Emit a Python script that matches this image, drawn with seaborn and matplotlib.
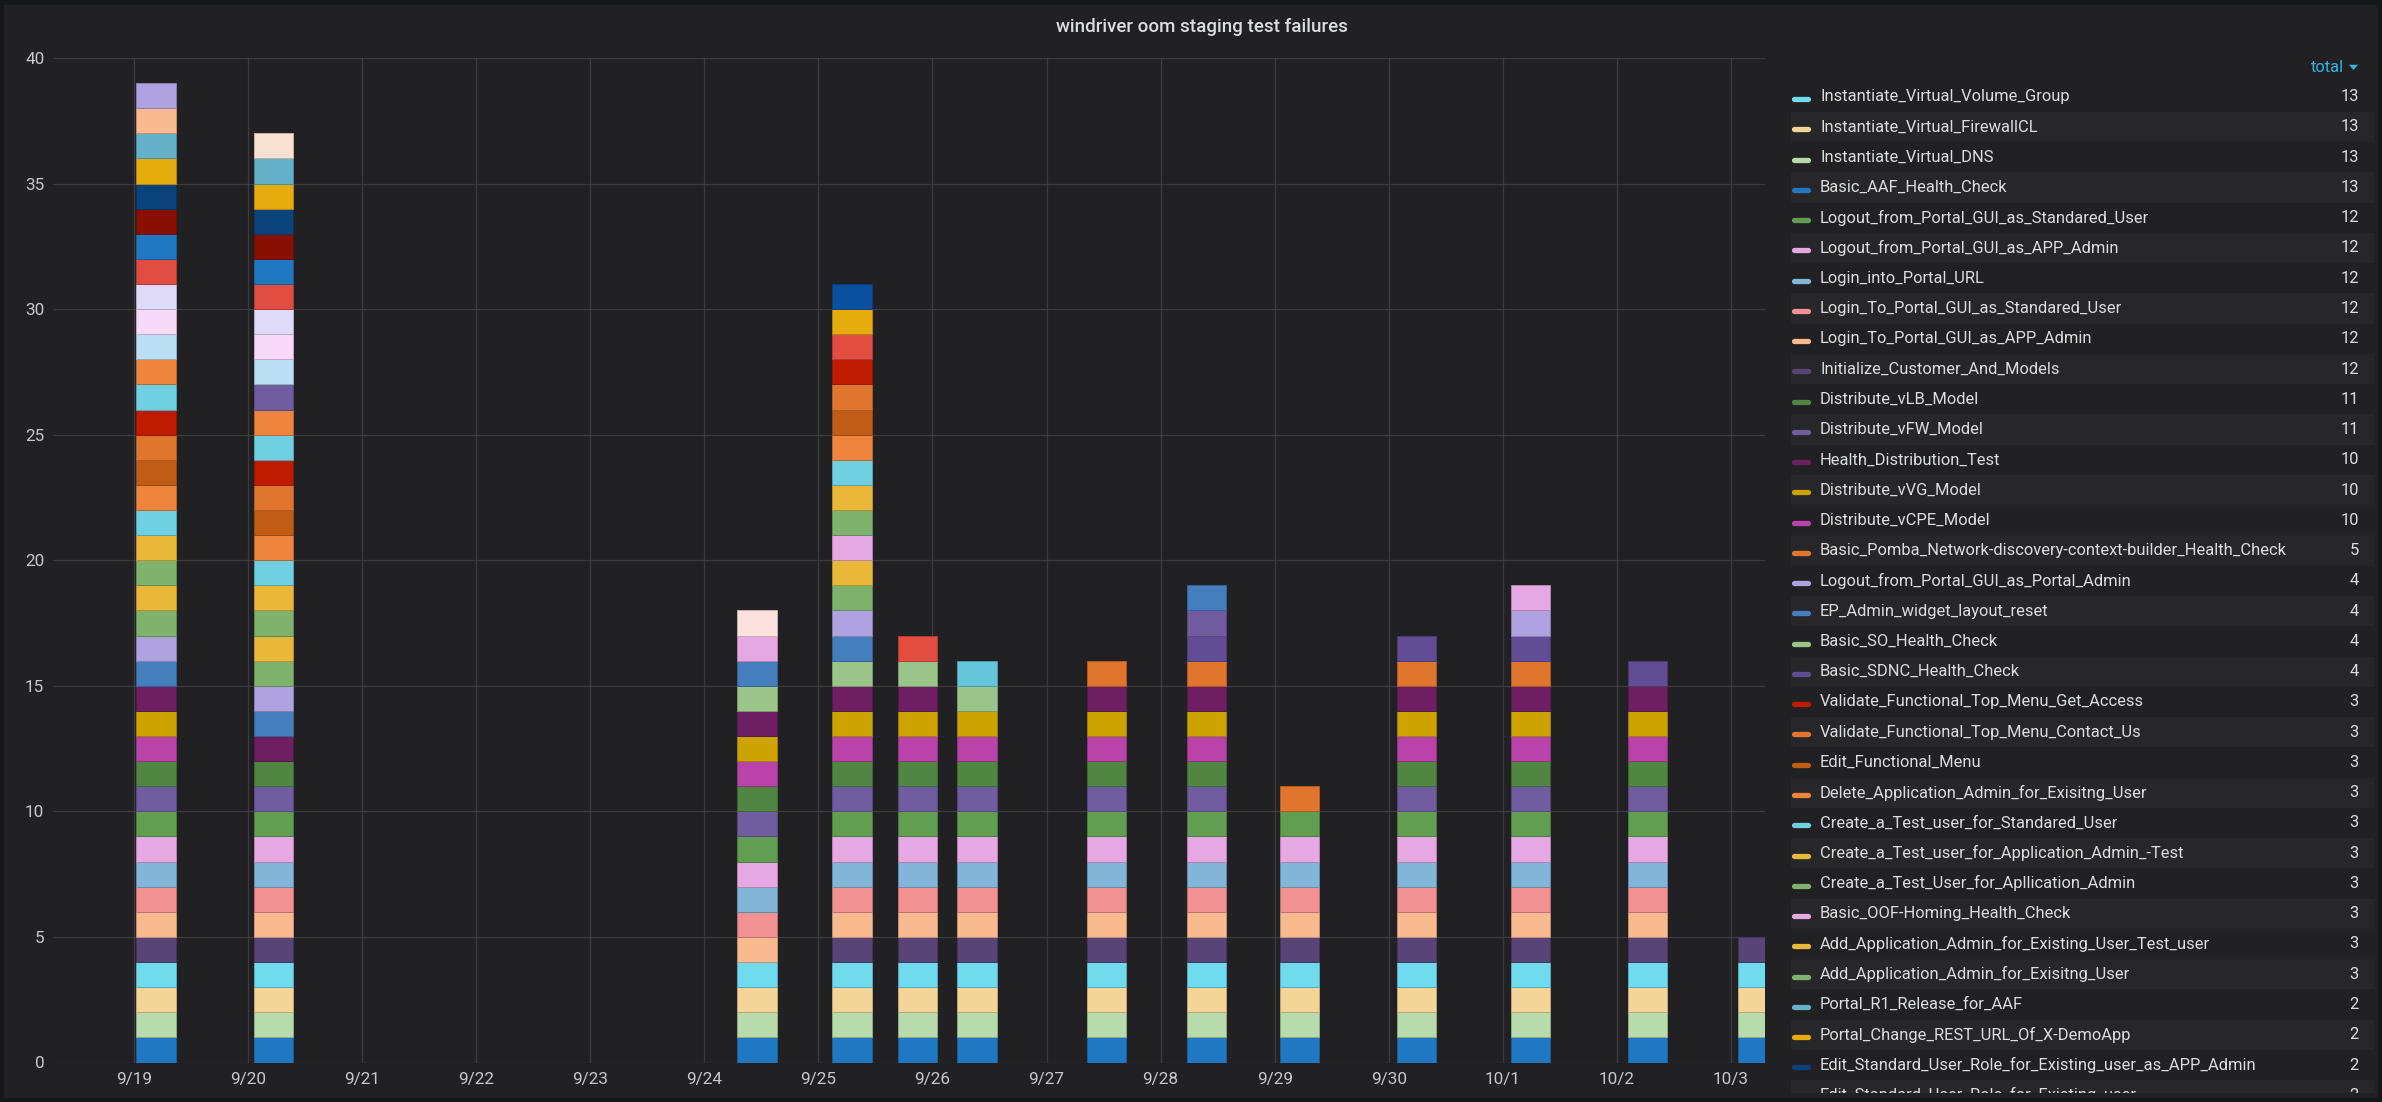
import numpy as np
import pandas as pd
import matplotlib
matplotlib.use("Agg")
import matplotlib.pyplot as plt
import matplotlib.dates as mdates
import seaborn as sns
from matplotlib.patches import Rectangle, Polygon

# ---------------- data ----------------
title = "windriver oom staging test failures"

# start time (left edge) of each test-run bar
bar_times = ["2018-09-19 00:29", "2018-09-20 01:11", "2018-09-24 06:56",
             "2018-09-25 02:58", "2018-09-25 16:45", "2018-09-26 05:11",
             "2018-09-27 08:27", "2018-09-28 05:33", "2018-09-29 01:05",
             "2018-09-30 01:45", "2018-10-01 01:44", "2018-10-02 02:21",
             "2018-10-03 01:26"]

x_tick_dates = ["2018-09-19", "2018-09-20", "2018-09-21", "2018-09-22",
                "2018-09-23", "2018-09-24", "2018-09-25", "2018-09-26",
                "2018-09-27", "2018-09-28", "2018-09-29", "2018-09-30",
                "2018-10-01", "2018-10-02", "2018-10-03"]
x_tick_labels = ["9/19", "9/20", "9/21", "9/22", "9/23", "9/24", "9/25", "9/26",
                 "9/27", "9/28", "9/29", "9/30", "10/1", "10/2", "10/3"]
y_ticks = [0, 5, 10, 15, 20, 25, 30, 35, 40]

# series in stacking order (bottom -> top)
series_names = [
    "Basic_AAF_Health_Check",
    "Instantiate_Virtual_DNS",
    "Instantiate_Virtual_FirewallCL",
    "Instantiate_Virtual_Volume_Group",
    "Initialize_Customer_And_Models",
    "Login_To_Portal_GUI_as_APP_Admin",
    "Login_To_Portal_GUI_as_Standared_User",
    "Login_into_Portal_URL",
    "Logout_from_Portal_GUI_as_APP_Admin",
    "Logout_from_Portal_GUI_as_Standared_User",
    "Distribute_vFW_Model",
    "Distribute_vLB_Model",
    "Distribute_vCPE_Model",
    "Distribute_vVG_Model",
    "Health_Distribution_Test",
    "Basic_Pomba_Network-discovery-context-builder_Health_Check",
    "Basic_SDNC_Health_Check",
    "Basic_SO_Health_Check",
    "EP_Admin_widget_layout_reset",
    "Logout_from_Portal_GUI_as_Portal_Admin",
    "Add_Application_Admin_for_Exisitng_User",
    "Add_Application_Admin_for_Existing_User_Test_user",
    "Basic_OOF-Homing_Health_Check",
    "Create_a_Test_User_for_Apllication_Admin",
    "Create_a_Test_user_for_Application_Admin_-Test",
    "Create_a_Test_user_for_Standared_User",
    "Delete_Application_Admin_for_Exisitng_User",
    "Edit_Functional_Menu",
    "Validate_Functional_Top_Menu_Contact_Us",
    "Validate_Functional_Top_Menu_Get_Access",
    "(scrolled out of legend) a",
    "(scrolled out of legend) b",
    "(scrolled out of legend) c",
    "(scrolled out of legend) d",
    "(scrolled out of legend) e",
    "(scrolled out of legend) f",
    "(scrolled out of legend) g",
    "(scrolled out of legend) h",
    "(scrolled out of legend) i",
    "Edit_Standard_User_Role_for_Existing_user",
    "Edit_Standard_User_Role_for_Existing_user_as_APP_Admin",
    "Portal_Change_REST_URL_Of_X-DemoApp",
    "Portal_R1_Release_for_AAF",
    "(scrolled out of legend) j",
    "(scrolled out of legend) k",
    "(scrolled out of legend) l",
    "(scrolled out of legend) m",
    "(scrolled out of legend) n",
    "(scrolled out of legend) o",
    "(scrolled out of legend) p",
    "(scrolled out of legend) q",
]

series_colors = [
    "#1F78C1", "#B7DBAB", "#F4D598", "#70DBED", "#584477", "#F9BA8F",
    "#F29191", "#82B5D8", "#E5A8E2", "#629E51", "#705DA0", "#508642",
    "#BA43A9", "#CCA300", "#6D1F62", "#E0752D", "#614D93", "#9AC48A",
    "#447EBC", "#AEA2E0", "#7EB26D", "#EAB839", "#E5A8E2", "#7EB26D",
    "#EAB839", "#6ED0E0", "#EF843C", "#C15C17", "#E0752D", "#BF1B00",
    "#6ED0E0", "#EF843C", "#705DA0", "#BADFF4", "#F9D9F9", "#DEDAF7",
    "#E24D42", "#1F78C1", "#E24D42", "#890F02", "#0A437C", "#E5AC0E",
    "#64B0C8", "#F9BA8F", "#AEA2E0", "#F9E2D2", "#FCE2DE", "#E5AC0E",
    "#0A50A1", "#65C5DB", "#447EBC",
]

# failures per bar (columns follow bar_times)
series_counts = [
    [1, 1, 1, 1, 1, 1, 1, 1, 1, 1, 1, 1, 1],
    [1, 1, 1, 1, 1, 1, 1, 1, 1, 1, 1, 1, 1],
    [1, 1, 1, 1, 1, 1, 1, 1, 1, 1, 1, 1, 1],
    [1, 1, 1, 1, 1, 1, 1, 1, 1, 1, 1, 1, 1],
    [1, 1, 0, 1, 1, 1, 1, 1, 1, 1, 1, 1, 1],
    [1, 1, 1, 1, 1, 1, 1, 1, 1, 1, 1, 1, 0],
    [1, 1, 1, 1, 1, 1, 1, 1, 1, 1, 1, 1, 0],
    [1, 1, 1, 1, 1, 1, 1, 1, 1, 1, 1, 1, 0],
    [1, 1, 1, 1, 1, 1, 1, 1, 1, 1, 1, 1, 0],
    [1, 1, 1, 1, 1, 1, 1, 1, 1, 1, 1, 1, 0],
    [1, 1, 1, 1, 1, 1, 1, 1, 0, 1, 1, 1, 0],
    [1, 1, 1, 1, 1, 1, 1, 1, 0, 1, 1, 1, 0],
    [1, 0, 1, 1, 1, 1, 1, 1, 0, 1, 1, 1, 0],
    [1, 0, 1, 1, 1, 1, 1, 1, 0, 1, 1, 1, 0],
    [1, 1, 1, 1, 1, 0, 1, 1, 0, 1, 1, 1, 0],
    [0, 0, 0, 0, 0, 0, 1, 1, 1, 1, 1, 0, 0],
    [0, 0, 0, 0, 0, 0, 0, 1, 0, 1, 1, 1, 0],
    [0, 0, 1, 1, 1, 1, 0, 0, 0, 0, 0, 0, 0],
    [1, 1, 1, 1, 0, 0, 0, 0, 0, 0, 0, 0, 0],
    [1, 1, 0, 1, 0, 0, 0, 0, 0, 0, 1, 0, 0],
    [1, 1, 0, 1, 0, 0, 0, 0, 0, 0, 0, 0, 0],
    [1, 1, 0, 1, 0, 0, 0, 0, 0, 0, 0, 0, 0],
    [0, 0, 1, 1, 0, 0, 0, 0, 0, 0, 1, 0, 0],
    [1, 1, 0, 1, 0, 0, 0, 0, 0, 0, 0, 0, 0],
    [1, 1, 0, 1, 0, 0, 0, 0, 0, 0, 0, 0, 0],
    [1, 1, 0, 1, 0, 0, 0, 0, 0, 0, 0, 0, 0],
    [1, 1, 0, 1, 0, 0, 0, 0, 0, 0, 0, 0, 0],
    [1, 1, 0, 1, 0, 0, 0, 0, 0, 0, 0, 0, 0],
    [1, 1, 0, 1, 0, 0, 0, 0, 0, 0, 0, 0, 0],
    [1, 1, 0, 1, 0, 0, 0, 0, 0, 0, 0, 0, 0],
    [1, 1, 0, 0, 0, 0, 0, 0, 0, 0, 0, 0, 0],
    [1, 1, 0, 0, 0, 0, 0, 0, 0, 0, 0, 0, 0],
    [0, 1, 0, 0, 0, 0, 0, 1, 0, 0, 0, 0, 0],
    [1, 1, 0, 0, 0, 0, 0, 0, 0, 0, 0, 0, 0],
    [1, 1, 0, 0, 0, 0, 0, 0, 0, 0, 0, 0, 0],
    [1, 1, 0, 0, 0, 0, 0, 0, 0, 0, 0, 0, 0],
    [1, 1, 0, 0, 0, 0, 0, 0, 0, 0, 0, 0, 0],
    [1, 1, 0, 0, 0, 0, 0, 0, 0, 0, 0, 0, 0],
    [0, 0, 0, 1, 1, 0, 0, 0, 0, 0, 0, 0, 0],
    [1, 1, 0, 0, 0, 0, 0, 0, 0, 0, 0, 0, 0],
    [1, 1, 0, 0, 0, 0, 0, 0, 0, 0, 0, 0, 0],
    [1, 1, 0, 0, 0, 0, 0, 0, 0, 0, 0, 0, 0],
    [1, 1, 0, 0, 0, 0, 0, 0, 0, 0, 0, 0, 0],
    [1, 0, 0, 0, 0, 0, 0, 0, 0, 0, 0, 0, 0],
    [1, 0, 0, 0, 0, 0, 0, 0, 0, 0, 0, 0, 0],
    [0, 1, 0, 0, 0, 0, 0, 0, 0, 0, 0, 0, 0],
    [0, 0, 1, 0, 0, 0, 0, 0, 0, 0, 0, 0, 0],
    [0, 0, 0, 1, 0, 0, 0, 0, 0, 0, 0, 0, 0],
    [0, 0, 0, 1, 0, 0, 0, 0, 0, 0, 0, 0, 0],
    [0, 0, 0, 0, 0, 1, 0, 0, 0, 0, 0, 0, 0],
    [0, 0, 0, 0, 0, 0, 0, 1, 0, 0, 0, 0, 0],
]

# ---------------- style ----------------
W, H, DPI = 2382, 1102, 100
PAGE_BG = "#161719"
PANEL_BG = "#212124"
TEXT = "#dcdddf"
TICK = "#c7c8c9"
GRID = "#3c3c3f"

sns.set_theme(style="dark")
plt.rcParams["font.family"] = ["Roboto", "DejaVu Sans"]

fig = plt.figure(figsize=(W / DPI, H / DPI), dpi=DPI, facecolor=PAGE_BG)

def fx(px):
    return px / W

def fy(py):
    return 1 - py / H

# panel background
fig.patches.append(Rectangle((fx(4), fy(1098)), fx(2378) - fx(4), fy(5) - fy(1098),
                             transform=fig.transFigure, facecolor=PANEL_BG,
                             edgecolor="none", zorder=-10))

fig.text(fx(1202), fy(27), title, ha="center", va="center", fontsize=13.5,
         fontweight="medium", color=TEXT)

# ---------------- bars ----------------
ax_l, ax_r, ax_t, ax_b = 52.7, 1765.0, 58.0, 1062.5
ax = fig.add_axes([fx(ax_l), fy(ax_b), fx(ax_r) - fx(ax_l), fy(ax_t) - fy(ax_b)])
ax.set_facecolor(PANEL_BG)

df = pd.DataFrame(series_counts, index=series_names,
                  columns=pd.to_datetime(bar_times))
bottoms = df.cumsum(axis=0) - df
xnum = mdates.date2num(df.columns.to_pydatetime())
bar_width = 0.346  # days

def darker(c, f=0.78):
    r, g, b = matplotlib.colors.to_rgb(c)
    return (r * f, g * f, b * f)

for name, color in zip(series_names, series_colors):
    vals = df.loc[name].to_numpy()
    mask = vals > 0
    if not mask.any():
        continue
    ax.bar(xnum[mask], vals[mask], bottom=bottoms.loc[name].to_numpy()[mask],
           width=bar_width, align="edge", color=color,
           edgecolor=darker(color), linewidth=0.7, zorder=3)

x0 = mdates.date2num(pd.Timestamp("2018-09-19"))
ax.set_xlim(x0 - 0.7127, x0 + 14.299)
ax.set_ylim(0, 40)
ax.set_xticks(mdates.date2num(pd.to_datetime(x_tick_dates).to_pydatetime()))
ax.set_xticklabels(x_tick_labels)
ax.set_yticks(y_ticks)
ax.set_yticklabels([str(v) for v in y_ticks])
ax.grid(True, color=GRID, alpha=1.0, linewidth=0.9, zorder=0)
ax.set_axisbelow(True)
for s in ax.spines.values():
    s.set_visible(False)
ax.tick_params(axis="both", length=0, labelsize=12.3, labelcolor=TICK)
ax.tick_params(axis="y", pad=6)
ax.tick_params(axis="x", pad=7)

# ---------------- legend table ----------------
lx0, lx1, ly_top, ly_bot = 1770, 2382, 48, 1093
lax = fig.add_axes([fx(lx0), fy(ly_bot), fx(lx1) - fx(lx0), fy(ly_top) - fy(ly_bot)])
lax.set_xlim(lx0, lx1)
lax.set_ylim(ly_bot, ly_top)
lax.axis("off")

totals = df.sum(axis=1).astype(int).to_numpy()
legend_order = sorted(range(len(series_names)), key=lambda i: (-totals[i], -i))

lax.text(2344, 67.3, "total", ha="right", va="center", fontsize=11.9,
         color="#33b5e5", clip_on=True)
lax.add_patch(Polygon([(2349, 64.8), (2358, 64.8), (2353.5, 70.0)],
                      closed=True, facecolor="#33b5e5", edgecolor="none"))

row0, row_h = 96.7, 30.26
for r, i in enumerate(legend_order):
    yc = row0 + r * row_h
    if yc - row_h > ly_bot:
        break
    if r % 2 == 1:
        lax.add_patch(Rectangle((1791.5, yc - row_h / 2), 582, row_h,
                                facecolor="#27272a", edgecolor="none", zorder=0))
    lax.plot([1794, 1808], [yc + 2.3, yc + 2.3], color=series_colors[i],
             linewidth=3.8, solid_capstyle="round", zorder=2)
    lax.text(1820, yc, series_names[i], ha="left", va="center", fontsize=11.9,
             color=TEXT, clip_on=True, zorder=3)
    lax.text(2358.7, yc, str(totals[i]), ha="right", va="center", fontsize=11.9,
             color=TEXT, clip_on=True, zorder=3)

fig.savefig("out.png", dpi=DPI, facecolor=PAGE_BG)
